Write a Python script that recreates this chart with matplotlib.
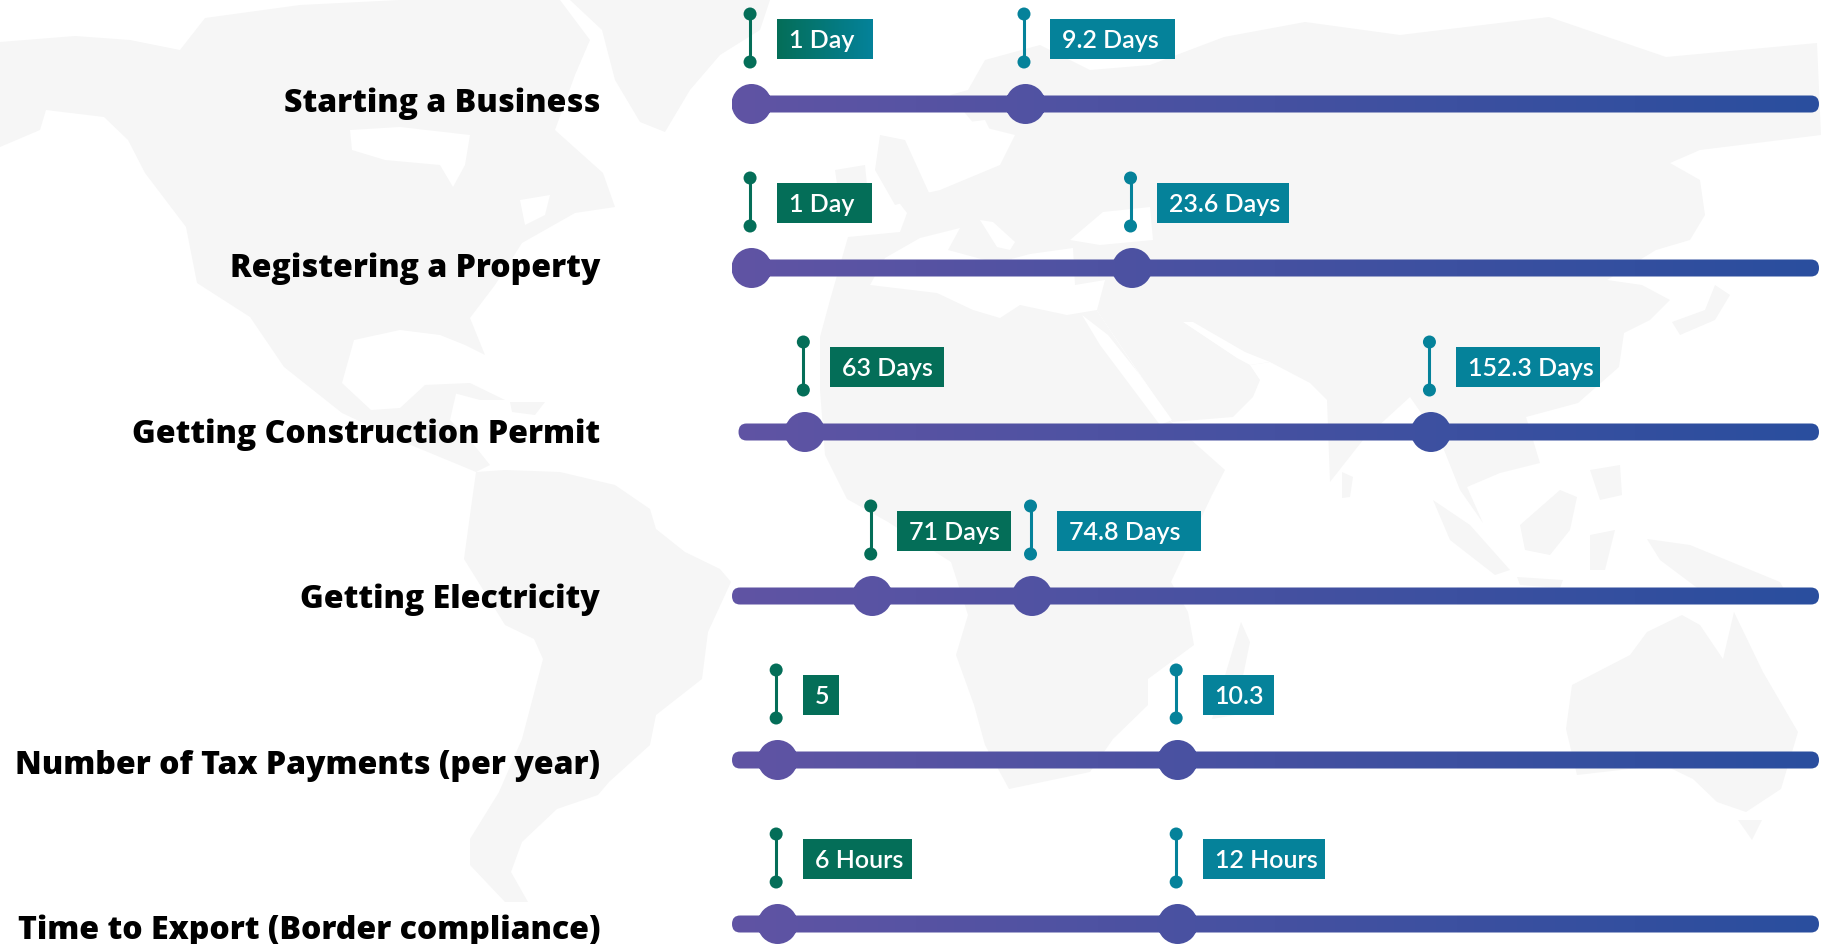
import numpy as np
import matplotlib
matplotlib.use('Agg')
import matplotlib.pyplot as plt
from matplotlib.colors import LinearSegmentedColormap
from matplotlib.patches import Circle, Polygon, Rectangle
from matplotlib.path import Path

# Data
categories = ['Starting a Business', 'Registering a Property', 'Getting Construction Permit',
              'Getting Electricity', 'Number of Tax Payments (per year)',
              'Time to Export (Border compliance)']
green_labels = ['1 Day', '1 Day', '63 Days', '71 Days', '5', '6 Hours']
teal_labels = ['9.2 Days', '23.6 Days', '152.3 Days', '74.8 Days', '10.3', '12 Hours']
# marker positions, percent along the track (the chart is not to scale)
green_pos = [1.8, 1.8, 6.7, 12.9, 4.2, 4.2]
teal_pos = [27.0, 36.8, 64.3, 27.6, 41.0, 41.0]
track_start = [0.0, 0.0, 0.6, 0.0, 0.0, 0.0]

# Layout, in reference pixels
W, H = 1821, 944
TRACK_L, TRACK_R = 732, 1819
TRACK_Y0, ROW_STEP = 104, 164
TEXT_Y0, TEXT_STEP = 112, 165.4
green_box_w = [96, 95, 114, 114, 36, 109]
teal_box_w = [125, 132, 144, 144, 71, 122]

PURPLE = '#6054a4'
BLUE = '#2a4e9e'
GREEN = '#046e58'
TEAL = '#05829a'
MAP_GREY = '#f6f6f6'

# Rough world map behind the chart
land = [
    # North America
    [(0, 42), (75, 36), (130, 40), (180, 50), (205, 18), (300, 5), (400, 0), (560, 0), (590, 40),
     (575, 75), (555, 130), (603, 173), (615, 207), (575, 213), (522, 243), (495, 285), (470, 318),
     (485, 355), (465, 345), (440, 335), (400, 330), (354, 340), (342, 383), (371, 410), (400, 408),
     (425, 385), (458, 385), (450, 420), (470, 440), (490, 465), (476, 472), (464, 467), (406, 443),
     (342, 413), (284, 367), (250, 317), (197, 283), (186, 227), (145, 173), (128, 140), (104, 117),
     (46, 110), (40, 130), (0, 147)],
    # Greenland
    [(570, 0), (770, 0), (760, 30), (720, 55), (690, 90), (665, 132), (640, 122), (615, 80), (602, 30)],
    # Cuba and Hispaniola
    [(424, 385), (470, 383), (505, 400), (480, 400)],
    [(510, 402), (545, 402), (535, 415), (512, 412)],
    # South America
    [(476, 472), (505, 470), (560, 472), (615, 485), (650, 509), (656, 529), (685, 552), (720, 569),
     (731, 582), (708, 632), (702, 679), (656, 715), (650, 745), (609, 782), (598, 795), (557, 809),
     (522, 842), (511, 872), (528, 902), (505, 902), (470, 865), (470, 839), (499, 792), (522, 739),
     (543, 659), (534, 639), (505, 625), (464, 559), (470, 515)],
    # Eurasia
    [(968, 90), (985, 60), (1040, 45), (1090, 70), (1150, 65), (1224, 37), (1305, 22), (1400, 35),
     (1549, 17), (1666, 57), (1817, 43), (1821, 135), (1700, 150), (1670, 163), (1700, 180), (1705, 215),
     (1690, 240), (1656, 250), (1607, 280), (1642, 285), (1670, 300), (1650, 320), (1624, 333),
     (1619, 367), (1578, 403), (1526, 417), (1533, 440), (1540, 463), (1500, 473), (1467, 487),
     (1483, 523), (1460, 490), (1440, 440), (1410, 397), (1363, 440), (1330, 482), (1327, 400),
     (1310, 383), (1270, 362), (1250, 365), (1260, 380), (1253, 397), (1233, 417), (1172, 422),
     (1090, 300), (830, 300), (848, 237), (900, 232), (907, 213), (897, 200), (940, 190), (1000, 165),
     (1015, 135), (975, 125), (950, 95)],
    # Africa
    [(830, 300), (1090, 300), (1171, 422), (1225, 470), (1212, 495), (1171, 582),
     (1188, 612), (1194, 645), (1148, 679), (1148, 705), (1113, 739), (1090, 772), (1009, 789),
     (985, 745), (974, 705), (956, 655), (968, 615), (951, 562), (888, 522), (847, 499), (825, 455),
     (820, 390), (820, 337)],
    # Islands of Europe
    [(880, 135), (905, 140), (930, 195), (895, 205), (875, 170)],
    [(835, 170), (865, 165), (868, 195), (840, 205)],
    [(790, 30), (830, 35), (815, 55), (785, 50)],
    # Madagascar, Sri Lanka, Japan
    [(1212, 719), (1241, 622), (1250, 642), (1235, 715)],
    [(1342, 472), (1353, 477), (1350, 497), (1342, 498)],
    [(1672, 322), (1705, 310), (1715, 285), (1730, 295), (1715, 320), (1680, 335)],
    # South East Asia
    [(1433, 500), (1470, 525), (1510, 570), (1495, 575), (1450, 540)],
    [(1517, 577), (1563, 580), (1560, 588), (1520, 585)],
    [(1520, 525), (1560, 490), (1577, 497), (1570, 530), (1550, 555), (1525, 550)],
    [(1590, 535), (1615, 530), (1605, 570), (1590, 570)],
    [(1590, 470), (1620, 465), (1622, 495), (1600, 500)],
    [(1647, 539), (1690, 545), (1780, 582), (1790, 600), (1700, 590), (1660, 560)],
    # Australia, Tasmania
    [(1566, 729), (1572, 685), (1630, 655), (1647, 632), (1682, 615), (1700, 625), (1723, 659),
     (1734, 612), (1763, 672), (1798, 732), (1781, 789), (1746, 812), (1717, 802), (1693, 779),
     (1664, 765), (1577, 775)],
    [(1738, 820), (1762, 820), (1752, 840)],
]
seas = [
    # Hudson Bay, Gulf of St Lawrence
    [(350, 130), (400, 127), (470, 135), (465, 165), (453, 187), (440, 165), (385, 160), (352, 150)],
    [(520, 200), (550, 195), (545, 215), (525, 225)],
    # Baltic
    [(945, 125), (985, 120), (1000, 150), (960, 165), (940, 150)],
    # Mediterranean, Adriatic, Black Sea
    [(885, 258), (920, 238), (960, 228), (948, 250), (985, 260), (1000, 262), (1030, 254), (1073, 248),
     (1075, 285), (1105, 280), (1097, 310), (1067, 315), (1020, 305), (1000, 318), (973, 310),
     (937, 293), (870, 285)],
    [(980, 220), (993, 222), (1015, 242), (1010, 250), (997, 247)],
    [(1070, 240), (1103, 212), (1150, 207), (1153, 240), (1100, 245)],
    # Red Sea, Persian Gulf
    [(1082, 315), (1108, 335), (1140, 375), (1172, 420), (1160, 425), (1130, 385), (1100, 345)],
    [(1183, 322), (1193, 322), (1245, 352), (1270, 362), (1250, 365), (1237, 358)],
]

fig = plt.figure(figsize=(W / 100, H / 100), dpi=100)
ax = fig.add_axes([0, 0, 1, 1])
ax.set_xlim(0, W)
ax.set_ylim(H, 0)
ax.axis('off')

for outline in land:
    ax.add_patch(Polygon(outline, closed=True, fc=MAP_GREY, ec='none', zorder=1))
for outline in seas:
    ax.add_patch(Polygon(outline, closed=True, fc='white', ec='none', zorder=1.5))

track_cmap = LinearSegmentedColormap.from_list('track', [PURPLE, BLUE])
box_cmap = LinearSegmentedColormap.from_list('box', [GREEN, TEAL])
ramp = np.linspace(0, 1, 256).reshape(1, -1)


def to_x(pct):
    return TRACK_L + pct / 100 * (TRACK_R - TRACK_L)


def draw_pin(x, y, box_w, color):
    px = x - 1.5
    ax.plot([px, px], [y - 90, y - 42], color=color, lw=2.2, solid_capstyle='butt', zorder=3)
    for dy in (-90, -42):
        ax.add_patch(Circle((px, y + dy), 6.5, fc=color, ec='none', zorder=3))
    bx = px + 26.5
    ax.add_patch(Rectangle((bx, y - 85), box_w, 40, fc=color, ec='none', zorder=3))
    return bx


for i, name in enumerate(categories):
    y = TRACK_Y0 + i * ROW_STEP
    x0 = to_x(track_start[i])
    gx, tx = to_x(green_pos[i]), to_x(teal_pos[i])

    # track plus both knobs, one gradient clipped to the shape
    bar = Path.make_compound_path(
        Path([(x0 + 8, y - 8.5), (TRACK_R - 8, y - 8.5), (TRACK_R, y - 8.5), (TRACK_R, y),
              (TRACK_R, y + 8.5), (TRACK_R - 8, y + 8.5), (x0 + 8, y + 8.5), (x0, y + 8.5),
              (x0, y), (x0, y - 8.5), (x0 + 8, y - 8.5)],
             [Path.MOVETO, Path.LINETO, Path.CURVE3, Path.CURVE3, Path.CURVE3, Path.CURVE3,
              Path.LINETO, Path.CURVE3, Path.CURVE3, Path.CURVE3, Path.CURVE3]),
        Path.circle((gx, y), 20), Path.circle((tx, y), 20))
    im = ax.imshow(ramp, cmap=track_cmap, extent=(TRACK_L, TRACK_R, y + 22, y - 22),
                   aspect='auto', zorder=2, interpolation='bilinear')
    im.set_clip_path(bar, transform=ax.transData)

    gbx = draw_pin(gx, y, green_box_w[i], GREEN)
    tbx = draw_pin(tx, y, teal_box_w[i], TEAL)
    if i == 0:
        # the first green box fades into teal in the original
        ax.imshow(ramp, cmap=box_cmap, extent=(gbx, gbx + green_box_w[i], y - 45, y - 85),
                  aspect='auto', zorder=3.5, interpolation='bilinear')
    ax.text(gbx + 12, y - 56, green_labels[i], color='white', fontsize=18, family='Lato',
            weight='semibold', zorder=4)
    ax.text(tbx + 12, y - 56, teal_labels[i], color='white', fontsize=18, family='Lato',
            weight='semibold', zorder=4)

    ax.text(600, TEXT_Y0 + i * TEXT_STEP, name, ha='right', va='baseline', color='black',
            fontsize=23, family='Open Sans', weight=800, zorder=4)

ax.set_xlim(0, W)
ax.set_ylim(H, 0)
fig.savefig('out.png', dpi=100, facecolor='white')
